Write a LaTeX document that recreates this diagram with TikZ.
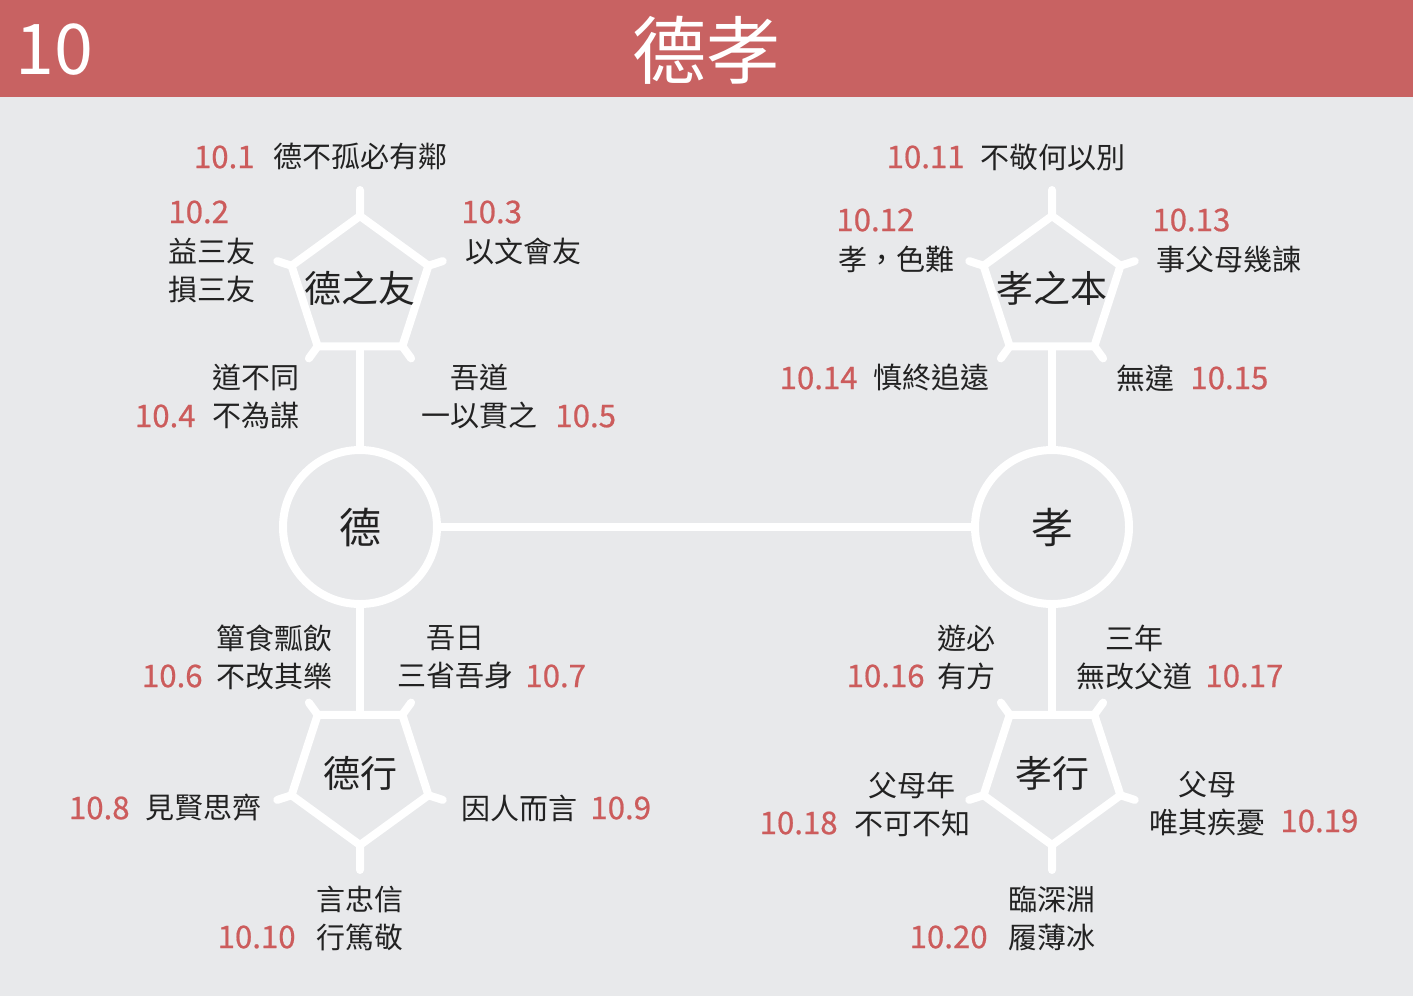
\documentclass[tikz,border=0pt]{standalone}
\usepackage{fontspec}
\setmainfont{Noto Sans CJK TC}
\newfontfamily\numfont[FakeBold=0.6]{Noto Sans CJK TC}
\usetikzlibrary{shapes.geometric,calc}
\definecolor{bandred}{HTML}{C86262}
\definecolor{numred}{HTML}{CC5C5C}
\definecolor{paper}{HTML}{E8E9EB}
\definecolor{ink}{HTML}{222222}

\begin{document}
\begin{tikzpicture}[
	x=0.5pt, y=-0.5pt,
	hub/.style={circle, draw=white, line width=4pt, minimum size=77pt, inner sep=0pt, outer sep=0pt, text=ink, font=\fontsize{21}{25}\selectfont},
	facet/.style={regular polygon, regular polygon sides=5, draw=white, line width=4pt, minimum size=72pt, inner sep=0pt, outer sep=0pt,
		label={[inner sep=0pt, text=ink, font=\fontsize{18.5}{22}\selectfont]center:#1}},
	facetdown/.style={facet=#1, shape border rotate=180},
	link/.style={draw=white, line width=4pt},
	spoke/.style={draw=white, line width=4pt, line cap=round},
	num/.style={inner sep=0pt, text=numred, font=\numfont\fontsize{15.6}{19}\selectfont},
	verse/.style={inner sep=0pt, text=ink, font=\fontsize{14.5}{19}\selectfont},
	headline/.style={inner sep=0pt, text=white}
]
\fill [paper] (0,0) rectangle (1413,996);
\useasboundingbox (0,0) rectangle (1413,996);
\fill [bandred] (0,0) rectangle (1413,97);
\node (chapter) [headline, anchor=west, font=\fontsize{35}{40}\selectfont] at (15,50) {10};
\node (title) [headline, font=\fontsize{37}{40}\selectfont] at (706,50) {德孝};

% hubs and pentagons
\node (de) [hub] at (360,527) {德};
\node (xiao) [hub] at (1052,527) {孝};
\node (deyou) [facet=德之友] at (360,288) {};
\node (dexing) [facetdown=德行] at (360,773) {};
\node (xiaoben) [facet=孝之本] at (1052,288) {};
\node (xiaoxing) [facetdown=孝行] at (1052,773) {};

\draw [link] (de) -- (xiao);
\draw [link] (deyou.side 3) -- (de.north);
\draw [link] (dexing.side 3) -- (de.south);
\draw [link] (xiaoben.side 3) -- (xiao.north);
\draw [link] (xiaoxing.side 3) -- (xiao.south);

\draw [spoke] (deyou.corner 1) -- ($(deyou.corner 1)!-13pt!(deyou.center)$)
	(deyou.corner 2) -- ($(deyou.corner 2)!-7.5pt!(deyou.center)$)
	(deyou.corner 3) -- ($(deyou.corner 3)!-7.5pt!(deyou.center)$)
	(deyou.corner 4) -- ($(deyou.corner 4)!-7.5pt!(deyou.center)$)
	(deyou.corner 5) -- ($(deyou.corner 5)!-7.5pt!(deyou.center)$);
\draw [spoke] (xiaoben.corner 1) -- ($(xiaoben.corner 1)!-13pt!(xiaoben.center)$)
	(xiaoben.corner 2) -- ($(xiaoben.corner 2)!-7.5pt!(xiaoben.center)$)
	(xiaoben.corner 3) -- ($(xiaoben.corner 3)!-7.5pt!(xiaoben.center)$)
	(xiaoben.corner 4) -- ($(xiaoben.corner 4)!-7.5pt!(xiaoben.center)$)
	(xiaoben.corner 5) -- ($(xiaoben.corner 5)!-7.5pt!(xiaoben.center)$);
\draw [spoke] (dexing.corner 1) -- ($(dexing.corner 1)!-12.5pt!(dexing.center)$)
	(dexing.corner 2) -- ($(dexing.corner 2)!-7.5pt!(dexing.center)$)
	(dexing.corner 3) -- ($(dexing.corner 3)!-7.5pt!(dexing.center)$)
	(dexing.corner 4) -- ($(dexing.corner 4)!-7.5pt!(dexing.center)$)
	(dexing.corner 5) -- ($(dexing.corner 5)!-7.5pt!(dexing.center)$);
\draw [spoke] (xiaoxing.corner 1) -- ($(xiaoxing.corner 1)!-12.5pt!(xiaoxing.center)$)
	(xiaoxing.corner 2) -- ($(xiaoxing.corner 2)!-7.5pt!(xiaoxing.center)$)
	(xiaoxing.corner 3) -- ($(xiaoxing.corner 3)!-7.5pt!(xiaoxing.center)$)
	(xiaoxing.corner 4) -- ($(xiaoxing.corner 4)!-7.5pt!(xiaoxing.center)$)
	(xiaoxing.corner 5) -- ($(xiaoxing.corner 5)!-7.5pt!(xiaoxing.center)$);

% sayings round 德之友
\node (num1) [num, anchor=east] at (255,157) {10.1};
\node (say1) [verse, anchor=west] at (273,157) {德不孤必有鄰};
\node (num2) [num, anchor=west] at (168,212) {10.2};
\node (say2) [verse, anchor=west, align=left] at (168,270) {益三友\\損三友};
\node (num3) [num, anchor=west] at (461,212) {10.3};
\node (say3) [verse, anchor=west] at (465,251) {以文會友};
\node (say4) [verse, anchor=west, align=left] at (212,397) {道不同\\不為謀};
\node (num4) [num, anchor=east] at (196,416) {10.4};
\node (say5) [verse, align=center] at (479,397) {吾道\\一以貫之};
\node (num5) [num, anchor=west] at (555,416) {10.5};

% sayings round 德行
\node (say6) [verse, anchor=east, align=right] at (333,657) {簞食瓢飲\\不改其樂};
\node (num6) [num, anchor=east] at (203,676) {10.6};
\node (say7) [verse, align=center] at (455,657) {吾日\\三省吾身};
\node (num7) [num, anchor=west] at (525,676) {10.7};
\node (num8) [num, anchor=east] at (130,808) {10.8};
\node (say8) [verse, anchor=west] at (145,808) {見賢思齊};
\node (say9) [verse, anchor=west] at (461,808) {因人而言};
\node (num9) [num, anchor=west] at (590,808) {10.9};
\node (say10) [verse, align=center] at (360,918) {言忠信\\行篤敬};
\node (num10) [num, anchor=east] at (296,937) {10.10};

% sayings round 孝之本
\node (num11) [num, anchor=east] at (965,157) {10.11};
\node (say11) [verse, anchor=west] at (980,157) {不敬何以別};
\node (num12) [num, anchor=west] at (836,220) {10.12};
\node (say12) [verse, anchor=west] at (838,259) {孝，色難};
\node (num13) [num, anchor=west] at (1152,220) {10.13};
\node (say13) [verse, anchor=west] at (1156,259) {事父母幾諫};
\node (num14) [num, anchor=east] at (858,378) {10.14};
\node (say14) [verse, anchor=west] at (873,378) {慎終追遠};
\node (say15) [verse, anchor=east] at (1175,378) {無違};
\node (num15) [num, anchor=west] at (1190,378) {10.15};

% sayings round 孝行
\node (say16) [verse, anchor=east, align=right] at (996,657) {遊必\\有方};
\node (num16) [num, anchor=east] at (925,676) {10.16};
\node (say17) [verse, align=center] at (1134,657) {三年\\無改父道};
\node (num17) [num, anchor=west] at (1205,676) {10.17};
\node (say18) [verse, align=center] at (912,804) {父母年\\不可不知};
\node (num18) [num, anchor=east] at (838,823) {10.18};
\node (say19) [verse, align=center] at (1207,804) {父母\\唯其疾憂};
\node (num19) [num, anchor=west] at (1280,821) {10.19};
\node (say20) [verse, align=center] at (1052,918) {臨深淵\\履薄冰};
\node (num20) [num, anchor=east] at (988,937) {10.20};
\end{tikzpicture}
\end{document}
